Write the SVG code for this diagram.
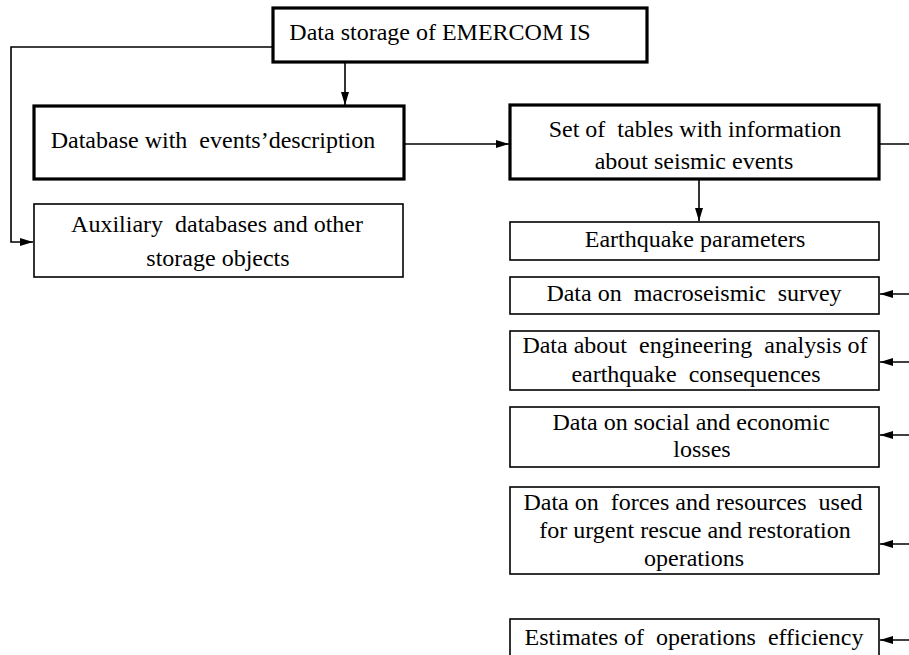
<svg xmlns="http://www.w3.org/2000/svg" width="909" height="655" viewBox="0 0 909 655">
<style>
  .thick{fill:#fff;stroke:#000;stroke-width:3.2}
  .thin{fill:#fff;stroke:#000;stroke-width:1.6}
  text{font-family:'Liberation Serif','Times New Roman',Tinos,Times,'DejaVu Serif',serif;font-size:24px;fill:#000;text-anchor:middle;white-space:pre}
  .conn path{fill:none;stroke:#000;stroke-width:1.6}
</style>
<defs>
  <marker id="ah" markerUnits="userSpaceOnUse" markerWidth="14" markerHeight="10" refX="13" refY="5" orient="auto">
    <path d="M0,1 L13,5 L0,9 Z" fill="#000"/>
  </marker>
</defs>
<rect width="909" height="655" fill="#fff"/>
<g class="conn">
  <path d="M273,47 H11 V242 H33" marker-end="url(#ah)"/>
  <path d="M345,63 V105" marker-end="url(#ah)"/>
  <path d="M404,144 H509" marker-end="url(#ah)"/>
  <path d="M879,144 H915"/>
  <path d="M699,179 V221" marker-end="url(#ah)"/>
  <path d="M915,294 H880" marker-end="url(#ah)"/>
  <path d="M915,362 H880" marker-end="url(#ah)"/>
  <path d="M915,435 H880" marker-end="url(#ah)"/>
  <path d="M915,544 H880" marker-end="url(#ah)"/>
  <path d="M915,640 H880" marker-end="url(#ah)"/>
</g>
<g id="storage">
  <rect class="thick" x="273" y="8" width="374" height="54"/>
  <text x="440" y="40" font-family="Liberation Serif, serif">Data storage of EMERCOM IS</text>
</g>
<g id="database">
  <rect class="thick" x="34" y="106" width="370" height="73"/>
  <text x="213" y="148">Database with  events’description</text>
</g>
<g id="auxiliary">
  <rect class="thin" x="34" y="204" width="369" height="73"/>
  <text x="217" y="232">Auxiliary  databases and other</text>
  <text x="218" y="266">storage objects</text>
</g>
<g id="tables">
  <rect class="thick" x="510" y="105" width="369" height="74"/>
  <text x="695" y="137">Set of  tables with information</text>
  <text x="694" y="169">about seismic events</text>
</g>
<g id="earthquake">
  <rect class="thin" x="510" y="222" width="369" height="38"/>
  <text x="695" y="247">Earthquake parameters</text>
</g>
<g id="macroseismic">
  <rect class="thin" x="510" y="277" width="369" height="37"/>
  <text x="694" y="301">Data on  macroseismic  survey</text>
</g>
<g id="engineering">
  <rect class="thin" x="510" y="331" width="369" height="59"/>
  <text x="695" y="353">Data about  engineering  analysis of</text>
  <text x="696" y="382">earthquake  consequences</text>
</g>
<g id="social">
  <rect class="thin" x="510" y="407" width="369" height="60"/>
  <text x="691" y="430">Data on social and economic</text>
  <text x="702" y="457">losses</text>
</g>
<g id="forces">
  <rect class="thin" x="510" y="487" width="369" height="87"/>
  <text x="693" y="510">Data on  forces and resources  used</text>
  <text x="695" y="538">for urgent rescue and restoration</text>
  <text x="694" y="566">operations</text>
</g>
<g id="estimates">
  <rect class="thin" x="510" y="619" width="369" height="60"/>
  <text x="694" y="645">Estimates of  operations  efficiency</text>
</g>
</svg>
